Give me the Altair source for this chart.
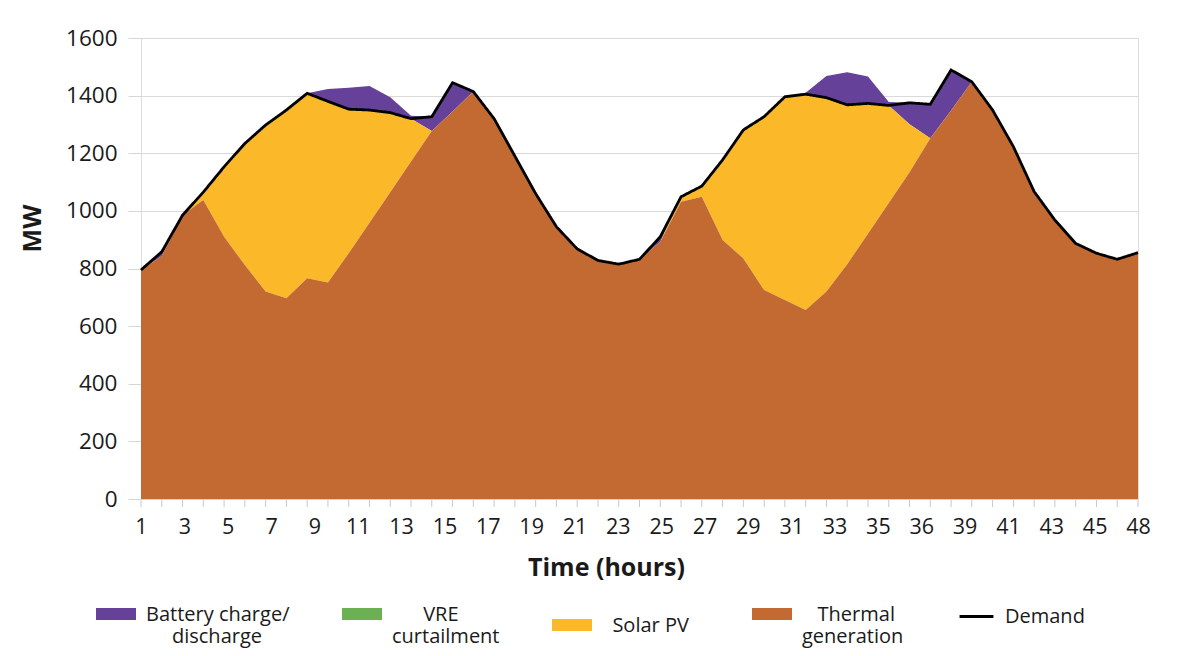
import json
import altair as alt
import pandas as pd

# ---- data (49 time steps) ----
steps = list(range(1, 50))

demand = [795, 858, 985, 1065, 1153, 1234, 1298, 1350, 1408, 1380,
          1353, 1350, 1341, 1320, 1327, 1445, 1414, 1320, 1190, 1060,
          945, 868, 828, 815, 832, 910, 1049, 1086, 1177, 1281,
          1327, 1396, 1405, 1393, 1368, 1373, 1366, 1375, 1370, 1489,
          1448, 1350, 1223, 1067, 968, 887, 853, 832, 855]

thermal = [795, 843, 985, 1038, 910, 812, 720, 697, 766, 751,
           853, 959, 1065, 1171, 1277, 1345, 1414, 1320, 1190, 1060,
           945, 868, 828, 815, 832, 893, 1032, 1049, 899, 835,
           725, 691, 656, 720, 815, 921, 1027, 1134, 1252, 1348,
           1448, 1350, 1223, 1067, 968, 887, 853, 832, 855]

solar = [0, 0, 0, 27, 243, 422, 578, 653, 642, 629,
         500, 391, 276, 149, 0, 0, 0, 0, 0, 0,
         0, 0, 0, 0, 0, 0, 17, 37, 278, 446,
         602, 705, 749, 673, 553, 452, 339, 167, 0, 0,
         0, 0, 0, 0, 0, 0, 0, 0, 0]

curtailment = [0, 0, 0, 0, 0, 0, 0, 0, 0, 0,
               0, 0, 0, 0, 0, 0, 0, 0, 0, 0,
               0, 0, 0, 0, 0, 0, 0, 0, 0, 0,
               0, 0, 0, 0, 0, 0, 0, 0, 0, 0,
               0, 0, 0, 0, 0, 0, 0, 0, 0]

battery = [0, 15, 0, 0, 0, 0, 0, 0, 0, 43,
           74, 83, 53, 10, 50, 100, 0, 0, 0, 0,
           0, 0, 0, 0, 0, 17, 0, 0, 0, 0,
           0, 0, 5, 75, 113, 93, 12, 74, 118, 141,
           0, 0, 0, 0, 0, 0, 0, 0, 0]

series_names = ["Battery charge/discharge", "VRE curtailment", "Solar PV", "Thermal generation"]
series_colors = ["#654199", "#6BB153", "#FBB828", "#C36A33"]
series_values = [battery, curtailment, solar, thermal]
stack_rank = [3, 2, 1, 0]  # thermal at the bottom

tick_labels = ["1", "3", "5", "7", "9", "11", "13", "15", "17", "19", "21", "23",
               "25", "27", "29", "31", "33", "35", "36", "39", "41", "43", "45", "48"]
y_ticks = [0, 200, 400, 600, 800, 1000, 1200, 1400, 1600]

# legend texts, shorter lines padded (zero-width char keeps the padding from being trimmed)
ZW = "\u200b"
NB = "\u00a0"
legend_lines = {
    "Battery charge/discharge": ["Battery charge/", ZW + NB * 5 + "discharge"],
    "VRE curtailment": [ZW + NB * 6 + "VRE", "curtailment"],
    "Solar PV": ZW + NB * 2 + "Solar PV" + NB * 2 + ZW,
    "Thermal generation": [ZW + NB * 3 + "Thermal", "generation"],
}

# ---- build tables ----
rows = []
for name, vals, rank in zip(series_names, series_values, stack_rank):
    for s, v in zip(steps, vals):
        rows.append({"step": s, "series": name, "value": v, "rank": rank})
area_df = pd.DataFrame(rows)
line_df = pd.DataFrame({"step": steps, "demand": demand, "label": "Demand"})
tick_df = pd.DataFrame({"step": steps})

n_lab = len(tick_labels)
first, last = steps[0], steps[-1]
tick_vals = [first + k * (last - first) / (n_lab - 1) for k in range(n_lab)]
label_expr = f"{json.dumps(tick_labels)}[round((datum.value - {first}) * {n_lab - 1} / {last - first})]"

leg_expr = "datum.label"
for key, lines in legend_lines.items():
    leg_expr = f"datum.label == {json.dumps(key)} ? {json.dumps(lines)} : ({leg_expr})"

FONT = "Open Sans"

x_enc = alt.X(
    "step:Q",
    scale=alt.Scale(domain=[first, last], nice=False, zero=False),
    axis=alt.Axis(
        values=tick_vals, labelExpr=label_expr, title="Time (hours)",
        grid=False, ticks=False, domain=True, domainColor="#D0D0D0",
        labelFont=FONT, labelFontSize=21.5, labelColor="#1a1a1a", labelPadding=17,
        labelFlush=False,
        titleFont=FONT, titleFontSize=25, titleFontWeight="bold", titleColor="#1a1a1a",
        titleX=465, titleY=68, titleAlign="center", titleBaseline="middle",
    ),
)

y_enc = alt.Y(
    "value:Q", stack="zero",
    scale=alt.Scale(domain=[0, 1600], nice=False),
    axis=alt.Axis(
        values=y_ticks, format="d", title="MW", grid=True, gridColor="#DADADA", gridWidth=1.2,
        domain=False, ticks=True, tickSize=13, tickColor="#D6D6D6",
        labelFont=FONT, labelFontSize=22.5, labelColor="#1a1a1a", labelPadding=11,
        titleFont=FONT, titleFontSize=25, titleFontWeight="bold", titleColor="#1a1a1a",
        titleX=-109, titleY=190, titleAlign="center", titleBaseline="middle", titleAngle=270,
    ),
)

area = alt.Chart(area_df).mark_area(interpolate="linear", opacity=1).encode(
    x=x_enc,
    y=y_enc,
    color=alt.Color(
        "series:N",
        scale=alt.Scale(domain=series_names, range=series_colors),
        legend=alt.Legend(
            title=None, orient="none", legendX=-45, legendY=563, direction="horizontal",
            symbolType="M-1,-0.65H1V-0.05H-1Z", symbolSize=1600, symbolStrokeWidth=0,
            labelFont=FONT, labelFontSize=20, labelColor="#1a1a1a", labelLimit=0,
            labelOffset=10, columnPadding=52, padding=0, labelExpr=leg_expr,
            labelBaseline="alphabetic",
        ),
    ),
    order=alt.Order("rank:Q", sort="ascending"),
)

line = alt.Chart(line_df).mark_line(color="black", strokeWidth=2.8).encode(
    x="step:Q",
    y="demand:Q",
    strokeDash=alt.StrokeDash(
        "label:N",
        scale=alt.Scale(domain=["Demand"], range=[[1, 0]]),
        legend=alt.Legend(
            title=None, orient="none", legendX=817, legendY=560,
            symbolType="stroke", symbolSize=1150, symbolStrokeWidth=3,
            symbolStrokeColor="black",
            labelFont=FONT, labelFontSize=20, labelColor="#1a1a1a",
            labelOffset=10, padding=0,
        ),
    ),
)

xticks = alt.Chart(tick_df).mark_rule(color="#C8C8C8", strokeWidth=1).encode(
    x="step:Q", y=alt.value(462), y2=alt.value(469)
)

chart = alt.layer(area, line, xticks).properties(
    width=997, height=461,
    autosize=alt.AutoSizeParams(type="none"),
    padding={"left": 133, "top": 30, "right": 32, "bottom": 149},
).configure_view(
    stroke="#D0D0D0", strokeWidth=1.5
).configure(background="white")

chart.save("out.html", embed_options={"renderer": "svg", "actions": False})
